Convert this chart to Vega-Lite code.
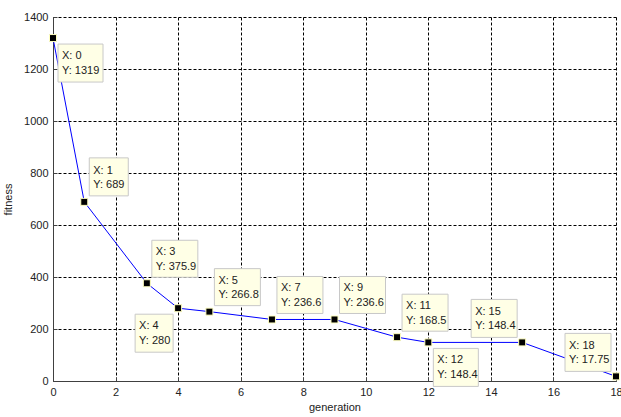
{
  "$schema": "https://vega.github.io/schema/vega-lite/v6.json",
  "width": 563,
  "height": 364,
  "autosize": {"type": "none"},
  "padding": {"left": 53, "top": 17, "right": 5, "bottom": 36},
  "background": "#ffffff",
  "config": {
    "view": {"stroke": null},
    "axis": {
      "domainColor": "#404040",
      "tickColor": "#404040",
      "tickSize": -4,
      "labelPadding": 9,
      "grid": true,
      "gridColor": "#000000",
      "gridDash": [3, 2],
      "gridOpacity": 1,
      "gridWidth": 1,
      "labelFont": "Liberation Sans",
      "labelFontSize": 11,
      "labelColor": "#222222",
      "titleFont": "Liberation Sans",
      "titleFontSize": 11,
      "titleFontWeight": "normal",
      "titleColor": "#222222"
    },
    "text": {"font": "Liberation Sans", "fontSize": 11, "color": "#222222", "lineHeight": 14.5}
  },
  "data": {
    "values": [
      {"x": 0, "y": 1319},
      {"x": 1, "y": 689},
      {"x": 3, "y": 375.9},
      {"x": 4, "y": 280},
      {"x": 5, "y": 266.8},
      {"x": 7, "y": 236.6},
      {"x": 9, "y": 236.6},
      {"x": 11, "y": 168.5},
      {"x": 12, "y": 148.4},
      {"x": 15, "y": 148.4},
      {"x": 18, "y": 17.75}
    ]
  },
  "encoding": {
    "x": {
      "field": "x",
      "type": "quantitative",
      "scale": {"domain": [0, 18], "nice": false, "zero": false},
      "axis": {"title": "generation", "values": [0, 2, 4, 6, 8, 10, 12, 14, 16, 18], "titlePadding": 4, "labelFlush": false}
    },
    "y": {
      "field": "y",
      "type": "quantitative",
      "scale": {"domain": [0, 1400], "nice": false},
      "axis": {"title": "fitness", "format": "d", "values": [0, 200, 400, 600, 800, 1000, 1200, 1400], "titlePadding": 10, "labelFlush": false}
    }
  },
  "layer": [
    {"mark": {"type": "line", "color": "#0000ff", "strokeWidth": 1}},
    {"mark": {"type": "point", "shape": "square", "filled": true, "fill": "#000000", "stroke": "#ffffc0", "strokeWidth": 1, "size": 49, "opacity": 1}},
    {
      "transform": [{"filter": {"field": "x", "oneOf": [3, 5, 7, 9, 11]}}],
      "mark": {"type": "point", "shape": "M5,-43H51V-6H5Z", "size": 4, "filled": true, "fill": "#ffffe6", "stroke": "#c8c8c8", "strokeWidth": 1, "opacity": 1}
    },
    {
      "transform": [{"filter": {"field": "x", "oneOf": [1]}}],
      "mark": {"type": "point", "shape": "M5,-44H44V-6H5Z", "size": 4, "filled": true, "fill": "#ffffe6", "stroke": "#c8c8c8", "strokeWidth": 1, "opacity": 1}
    },
    {
      "transform": [{"filter": {"field": "x", "oneOf": [0, 12]}}],
      "mark": {"type": "point", "shape": "M5,6H50V44H5Z", "size": 4, "filled": true, "fill": "#ffffe6", "stroke": "#c8c8c8", "strokeWidth": 1, "opacity": 1}
    },
    {
      "transform": [{"filter": {"field": "x", "oneOf": [4]}}],
      "mark": {"type": "point", "shape": "M-43,6H-5V44H-43Z", "size": 4, "filled": true, "fill": "#ffffe6", "stroke": "#c8c8c8", "strokeWidth": 1, "opacity": 1}
    },
    {
      "transform": [{"filter": {"field": "x", "oneOf": [15, 18]}}],
      "mark": {"type": "point", "shape": "M-51,-43H-5V-5H-51Z", "size": 4, "filled": true, "fill": "#ffffe6", "stroke": "#c8c8c8", "strokeWidth": 1, "opacity": 1}
    },
    {
      "transform": [
        {"filter": {"field": "x", "oneOf": [1, 3, 5, 7, 9, 11]}},
        {"calculate": "['X: ' + datum.x, 'Y: ' + datum.y]", "as": "tip"}
      ],
      "mark": {"type": "text", "align": "left", "baseline": "middle", "dx": 9, "dy": -31},
      "encoding": {"text": {"field": "tip"}}
    },
    {
      "transform": [
        {"filter": {"field": "x", "oneOf": [0, 12]}},
        {"calculate": "['X: ' + datum.x, 'Y: ' + datum.y]", "as": "tip"}
      ],
      "mark": {"type": "text", "align": "left", "baseline": "middle", "dx": 9, "dy": 18},
      "encoding": {"text": {"field": "tip"}}
    },
    {
      "transform": [
        {"filter": {"field": "x", "oneOf": [4]}},
        {"calculate": "['X: ' + datum.x, 'Y: ' + datum.y]", "as": "tip"}
      ],
      "mark": {"type": "text", "align": "left", "baseline": "middle", "dx": -39, "dy": 18},
      "encoding": {"text": {"field": "tip"}}
    },
    {
      "transform": [
        {"filter": {"field": "x", "oneOf": [15, 18]}},
        {"calculate": "['X: ' + datum.x, 'Y: ' + datum.y]", "as": "tip"}
      ],
      "mark": {"type": "text", "align": "left", "baseline": "middle", "dx": -47, "dy": -30.5},
      "encoding": {"text": {"field": "tip"}}
    }
  ]
}
